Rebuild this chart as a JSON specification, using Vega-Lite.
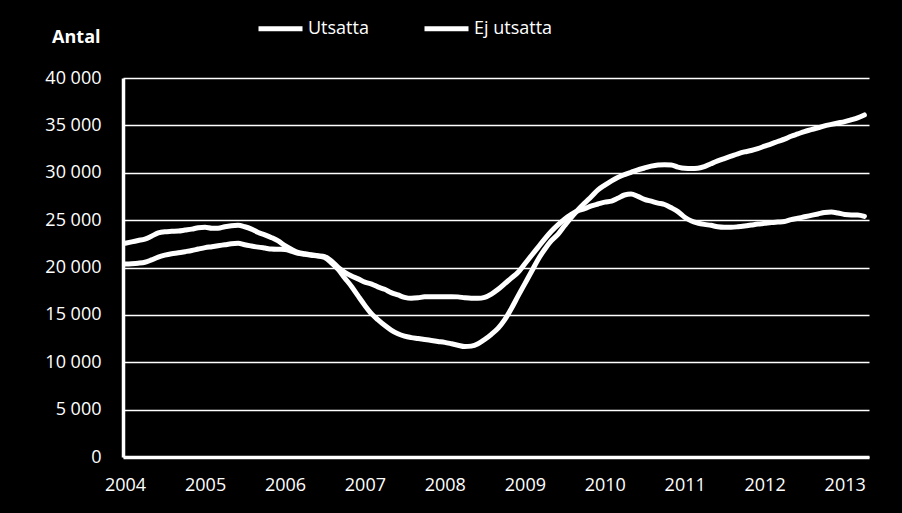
{
  "$schema": "https://vega.github.io/schema/vega-lite/v6.json",
  "autosize": "none",
  "width": 746,
  "height": 379,
  "padding": {"left": 123, "top": 78, "right": 33, "bottom": 56},
  "background": "#000000",
  "config": {
    "view": {"stroke": null},
    "font": "Open Sans"
  },
  "data": {
    "values": [
      {"date": "2004-01-01", "Utsatta": 22550, "Ej utsatta": 20370},
      {"date": "2004-02-01", "Utsatta": 22700, "Ej utsatta": 20400},
      {"date": "2004-03-01", "Utsatta": 22850, "Ej utsatta": 20450},
      {"date": "2004-04-01", "Utsatta": 23000, "Ej utsatta": 20550},
      {"date": "2004-05-01", "Utsatta": 23300, "Ej utsatta": 20800},
      {"date": "2004-06-01", "Utsatta": 23650, "Ej utsatta": 21100},
      {"date": "2004-07-01", "Utsatta": 23780, "Ej utsatta": 21300},
      {"date": "2004-08-01", "Utsatta": 23820, "Ej utsatta": 21450},
      {"date": "2004-09-01", "Utsatta": 23850, "Ej utsatta": 21550},
      {"date": "2004-10-01", "Utsatta": 23950, "Ej utsatta": 21670},
      {"date": "2004-11-01", "Utsatta": 24050, "Ej utsatta": 21800},
      {"date": "2004-12-01", "Utsatta": 24200, "Ej utsatta": 21950},
      {"date": "2005-01-01", "Utsatta": 24250, "Ej utsatta": 22100},
      {"date": "2005-02-01", "Utsatta": 24150, "Ej utsatta": 22200},
      {"date": "2005-03-01", "Utsatta": 24150, "Ej utsatta": 22300},
      {"date": "2005-04-01", "Utsatta": 24300, "Ej utsatta": 22400},
      {"date": "2005-05-01", "Utsatta": 24400, "Ej utsatta": 22500},
      {"date": "2005-06-01", "Utsatta": 24450, "Ej utsatta": 22550},
      {"date": "2005-07-01", "Utsatta": 24300, "Ej utsatta": 22400},
      {"date": "2005-08-01", "Utsatta": 24050, "Ej utsatta": 22270},
      {"date": "2005-09-01", "Utsatta": 23700, "Ej utsatta": 22150},
      {"date": "2005-10-01", "Utsatta": 23450, "Ej utsatta": 22050},
      {"date": "2005-11-01", "Utsatta": 23150, "Ej utsatta": 21950},
      {"date": "2005-12-01", "Utsatta": 22800, "Ej utsatta": 21920},
      {"date": "2006-01-01", "Utsatta": 22300, "Ej utsatta": 21900},
      {"date": "2006-02-01", "Utsatta": 21900, "Ej utsatta": 21700},
      {"date": "2006-03-01", "Utsatta": 21600, "Ej utsatta": 21500},
      {"date": "2006-04-01", "Utsatta": 21450, "Ej utsatta": 21400},
      {"date": "2006-05-01", "Utsatta": 21350, "Ej utsatta": 21300},
      {"date": "2006-06-01", "Utsatta": 21250, "Ej utsatta": 21200},
      {"date": "2006-07-01", "Utsatta": 21150, "Ej utsatta": 21050},
      {"date": "2006-08-01", "Utsatta": 20700, "Ej utsatta": 20500},
      {"date": "2006-09-01", "Utsatta": 20000, "Ej utsatta": 19800},
      {"date": "2006-10-01", "Utsatta": 19500, "Ej utsatta": 18900},
      {"date": "2006-11-01", "Utsatta": 19100, "Ej utsatta": 18000},
      {"date": "2006-12-01", "Utsatta": 18800, "Ej utsatta": 17000},
      {"date": "2007-01-01", "Utsatta": 18450, "Ej utsatta": 16000},
      {"date": "2007-02-01", "Utsatta": 18250, "Ej utsatta": 15100},
      {"date": "2007-03-01", "Utsatta": 17950, "Ej utsatta": 14500},
      {"date": "2007-04-01", "Utsatta": 17700, "Ej utsatta": 13900},
      {"date": "2007-05-01", "Utsatta": 17350, "Ej utsatta": 13400},
      {"date": "2007-06-01", "Utsatta": 17100, "Ej utsatta": 13000},
      {"date": "2007-07-01", "Utsatta": 16850, "Ej utsatta": 12750},
      {"date": "2007-08-01", "Utsatta": 16750, "Ej utsatta": 12600},
      {"date": "2007-09-01", "Utsatta": 16800, "Ej utsatta": 12500},
      {"date": "2007-10-01", "Utsatta": 16900, "Ej utsatta": 12400},
      {"date": "2007-11-01", "Utsatta": 16900, "Ej utsatta": 12300},
      {"date": "2007-12-01", "Utsatta": 16920, "Ej utsatta": 12200},
      {"date": "2008-01-01", "Utsatta": 16920, "Ej utsatta": 12100},
      {"date": "2008-02-01", "Utsatta": 16920, "Ej utsatta": 11950},
      {"date": "2008-03-01", "Utsatta": 16900, "Ej utsatta": 11800},
      {"date": "2008-04-01", "Utsatta": 16800, "Ej utsatta": 11650},
      {"date": "2008-05-01", "Utsatta": 16750, "Ej utsatta": 11700},
      {"date": "2008-06-01", "Utsatta": 16750, "Ej utsatta": 11950},
      {"date": "2008-07-01", "Utsatta": 16850, "Ej utsatta": 12400},
      {"date": "2008-08-01", "Utsatta": 17200, "Ej utsatta": 12950},
      {"date": "2008-09-01", "Utsatta": 17700, "Ej utsatta": 13600},
      {"date": "2008-10-01", "Utsatta": 18300, "Ej utsatta": 14500},
      {"date": "2008-11-01", "Utsatta": 18900, "Ej utsatta": 15700},
      {"date": "2008-12-01", "Utsatta": 19500, "Ej utsatta": 17000},
      {"date": "2009-01-01", "Utsatta": 20400, "Ej utsatta": 18300},
      {"date": "2009-02-01", "Utsatta": 21300, "Ej utsatta": 19600},
      {"date": "2009-03-01", "Utsatta": 22100, "Ej utsatta": 20800},
      {"date": "2009-04-01", "Utsatta": 23000, "Ej utsatta": 21900},
      {"date": "2009-05-01", "Utsatta": 23800, "Ej utsatta": 22800},
      {"date": "2009-06-01", "Utsatta": 24500, "Ej utsatta": 23500},
      {"date": "2009-07-01", "Utsatta": 25100, "Ej utsatta": 24400},
      {"date": "2009-08-01", "Utsatta": 25600, "Ej utsatta": 25300},
      {"date": "2009-09-01", "Utsatta": 26000, "Ej utsatta": 26100},
      {"date": "2009-10-01", "Utsatta": 26200, "Ej utsatta": 26800},
      {"date": "2009-11-01", "Utsatta": 26500, "Ej utsatta": 27500},
      {"date": "2009-12-01", "Utsatta": 26700, "Ej utsatta": 28200},
      {"date": "2010-01-01", "Utsatta": 26900, "Ej utsatta": 28700},
      {"date": "2010-02-01", "Utsatta": 27000, "Ej utsatta": 29150},
      {"date": "2010-03-01", "Utsatta": 27300, "Ej utsatta": 29500},
      {"date": "2010-04-01", "Utsatta": 27650, "Ej utsatta": 29800},
      {"date": "2010-05-01", "Utsatta": 27750, "Ej utsatta": 30050},
      {"date": "2010-06-01", "Utsatta": 27500, "Ej utsatta": 30300},
      {"date": "2010-07-01", "Utsatta": 27200, "Ej utsatta": 30500},
      {"date": "2010-08-01", "Utsatta": 27000, "Ej utsatta": 30700},
      {"date": "2010-09-01", "Utsatta": 26800, "Ej utsatta": 30820},
      {"date": "2010-10-01", "Utsatta": 26650, "Ej utsatta": 30850},
      {"date": "2010-11-01", "Utsatta": 26300, "Ej utsatta": 30820},
      {"date": "2010-12-01", "Utsatta": 25900, "Ej utsatta": 30600},
      {"date": "2011-01-01", "Utsatta": 25300, "Ej utsatta": 30470},
      {"date": "2011-02-01", "Utsatta": 24900, "Ej utsatta": 30450},
      {"date": "2011-03-01", "Utsatta": 24700, "Ej utsatta": 30470},
      {"date": "2011-04-01", "Utsatta": 24550, "Ej utsatta": 30650},
      {"date": "2011-05-01", "Utsatta": 24450, "Ej utsatta": 30950},
      {"date": "2011-06-01", "Utsatta": 24300, "Ej utsatta": 31250},
      {"date": "2011-07-01", "Utsatta": 24250, "Ej utsatta": 31500},
      {"date": "2011-08-01", "Utsatta": 24250, "Ej utsatta": 31750},
      {"date": "2011-09-01", "Utsatta": 24300, "Ej utsatta": 32000},
      {"date": "2011-10-01", "Utsatta": 24380, "Ej utsatta": 32200},
      {"date": "2011-11-01", "Utsatta": 24480, "Ej utsatta": 32350},
      {"date": "2011-12-01", "Utsatta": 24580, "Ej utsatta": 32550},
      {"date": "2012-01-01", "Utsatta": 24660, "Ej utsatta": 32800},
      {"date": "2012-02-01", "Utsatta": 24750, "Ej utsatta": 33050},
      {"date": "2012-03-01", "Utsatta": 24800, "Ej utsatta": 33300},
      {"date": "2012-04-01", "Utsatta": 24850, "Ej utsatta": 33550},
      {"date": "2012-05-01", "Utsatta": 25050, "Ej utsatta": 33850},
      {"date": "2012-06-01", "Utsatta": 25200, "Ej utsatta": 34100},
      {"date": "2012-07-01", "Utsatta": 25350, "Ej utsatta": 34350},
      {"date": "2012-08-01", "Utsatta": 25500, "Ej utsatta": 34550},
      {"date": "2012-09-01", "Utsatta": 25650, "Ej utsatta": 34750},
      {"date": "2012-10-01", "Utsatta": 25800, "Ej utsatta": 34950},
      {"date": "2012-11-01", "Utsatta": 25850, "Ej utsatta": 35100},
      {"date": "2012-12-01", "Utsatta": 25750, "Ej utsatta": 35250},
      {"date": "2013-01-01", "Utsatta": 25600, "Ej utsatta": 35400},
      {"date": "2013-02-01", "Utsatta": 25550, "Ej utsatta": 35600},
      {"date": "2013-03-01", "Utsatta": 25550, "Ej utsatta": 35800},
      {"date": "2013-04-01", "Utsatta": 25400, "Ej utsatta": 36100}
    ]
  },
  "transform": [
    {"fold": ["Utsatta", "Ej utsatta"], "as": ["serie", "antal"]}
  ],
  "mark": {
    "type": "line",
    "strokeWidth": 5,
    "strokeCap": "round",
    "strokeJoin": "round",
    "interpolate": "monotone"
  },
  "encoding": {
    "x": {
      "field": "date",
      "type": "temporal",
      "scale": {
        "type": "utc",
        "domain": ["2003-12-23", "2013-04-22"]
      },
      "axis": {
        "title": null,
        "format": "%Y",
        "tickCount": {"interval": "year", "step": 1},
        "grid": false,
        "ticks": false,
        "domainColor": "#ffffff",
        "domainWidth": 3.5,
        "labelColor": "#ffffff",
        "labelFont": "Open Sans",
        "labelFontSize": 18,
        "labelPadding": 19,
        "labelFlush": false,
        "labelOverlap": false
      }
    },
    "y": {
      "field": "antal",
      "type": "quantitative",
      "scale": {"domain": [0, 40000], "nice": false},
      "axis": {
        "values": [0, 5000, 10000, 15000, 20000, 25000, 30000, 35000, 40000],
        "labelExpr": "replace(format(datum.value, ','), ',', ' ')",
        "grid": true,
        "gridColor": "#ffffff",
        "gridWidth": 1.3,
        "ticks": false,
        "domainColor": "#ffffff",
        "domainWidth": 3.5,
        "labelColor": "#ffffff",
        "labelFont": "Open Sans",
        "labelFontSize": 18,
        "labelPadding": 22,
        "title": "Antal",
        "titleColor": "#ffffff",
        "titleFont": "Open Sans",
        "titleFontSize": 18,
        "titleFontWeight": "bold",
        "titleAngle": 0,
        "titleAlign": "right",
        "titleBaseline": "alphabetic",
        "titleX": -23,
        "titleY": -36
      }
    },
    "color": {
      "field": "serie",
      "type": "nominal",
      "scale": {"domain": ["Utsatta", "Ej utsatta"], "range": ["#ffffff", "#ffffff"]},
      "legend": {
        "title": null,
        "orient": "none",
        "direction": "horizontal",
        "legendX": 133,
        "legendY": -74,
        "padding": 0,
        "symbolType": "stroke",
        "symbolSize": 1936,
        "symbolStrokeWidth": 5,
        "symbolStrokeColor": "#ffffff",
        "labelColor": "#ffffff",
        "labelFont": "Open Sans",
        "labelFontSize": 18,
        "labelOffset": 3,
        "columnPadding": 45
      }
    }
  }
}
